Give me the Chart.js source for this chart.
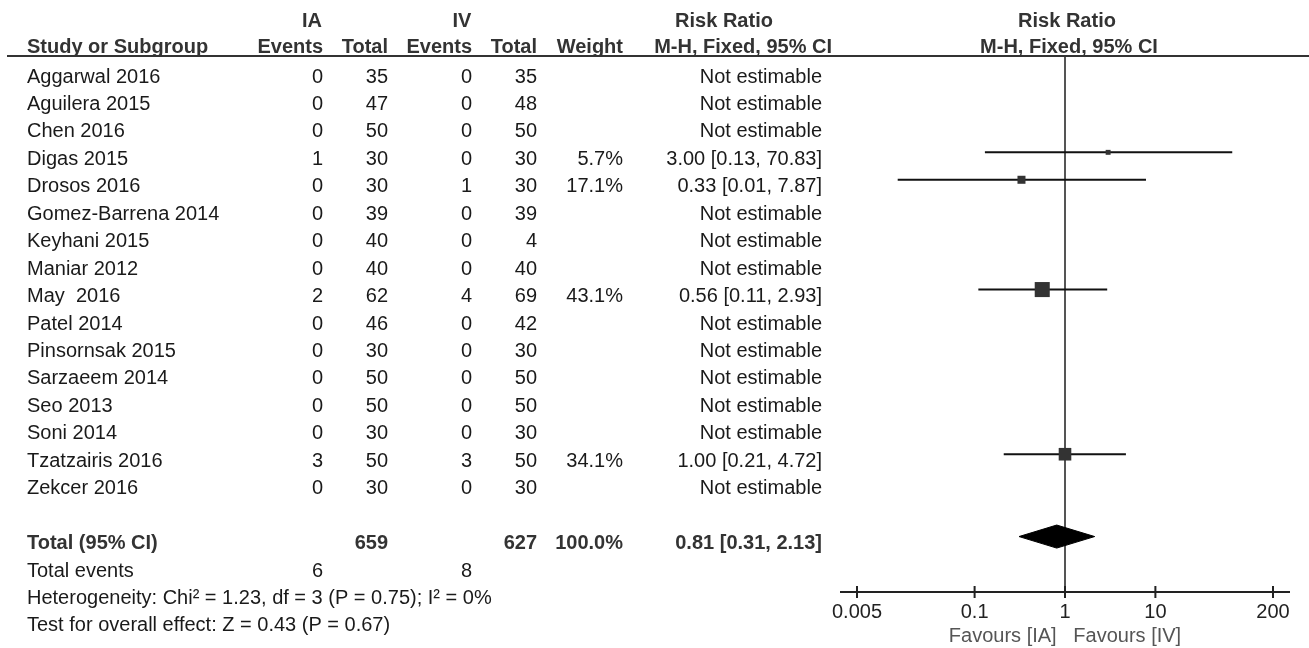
<!DOCTYPE html>
<html>
<head>
<meta charset="utf-8">
<script src="https://cdn.jsdelivr.net/npm/chart.js@4/dist/chart.umd.min.js"></script>
<style>
  html, body { margin: 0; padding: 0; background: #fff; }
  #wrap { width: 1309px; height: 648px; }
</style>
</head>
<body>
<div id="wrap"><canvas id="forest" width="1309" height="648"></canvas></div>
<script>
const studies = ['Aggarwal 2016', 'Aguilera 2015', 'Chen 2016', 'Digas 2015', 'Drosos 2016',
  'Gomez-Barrena 2014', 'Keyhani 2015', 'Maniar 2012', 'May  2016', 'Patel 2014',
  'Pinsornsak 2015', 'Sarzaeem 2014', 'Seo 2013', 'Soni 2014', 'Tzatzairis 2016', 'Zekcer 2016'];
const iaEvents = [0, 0, 0, 1, 0, 0, 0, 0, 2, 0, 0, 0, 0, 0, 3, 0];
const iaTotal  = [35, 47, 50, 30, 30, 39, 40, 40, 62, 46, 30, 50, 50, 30, 50, 30];
const ivEvents = [0, 0, 0, 0, 1, 0, 0, 0, 4, 0, 0, 0, 0, 0, 3, 0];
const ivTotal  = [35, 48, 50, 30, 30, 39, 4, 40, 69, 42, 30, 50, 50, 30, 50, 30];
const weights  = [null, null, null, 5.7, 17.1, null, null, null, 43.1, null, null, null, null, null, 34.1, null];
const riskRatio = [null, null, null, 3.00, 0.33, null, null, null, 0.56, null, null, null, null, null, 1.00, null];
const ciLow    = [null, null, null, 0.13, 0.0141, null, null, null, 0.11, null, null, null, null, null, 0.21, null];
const ciHigh   = [null, null, null, 70.83, 7.87, null, null, null, 2.93, null, null, null, null, null, 4.72, null];

const pooled = { rr: 0.81, low: 0.31, high: 2.13 };
const totals = { ia: 659, iv: 627, weight: '100.0%' };
const totalEvents = { ia: 6, iv: 8 };
const heterogeneity = 'Heterogeneity: Chi² = 1.23, df = 3 (P = 0.75); I² = 0%';
const overallEffect = 'Test for overall effect: Z = 0.43 (P = 0.67)';

const xTicks = [0.005, 0.1, 1, 10, 200];
const favoursLabel = 'Favours [IA]   Favours [IV]';

const FONT = '"Liberation Sans", Arial, Helvetica, sans-serif';
Chart.defaults.font.family = FONT;

const TOTAL_ROW = 17;
const Y_MIN = -0.51, Y_MAX = 19.02;

const estimable = studies.map((s, i) => i).filter(i => riskRatio[i] !== null);

// CI whiskers, one little line per study
const ciSets = estimable.map(i => ({
  data: [{ x: ciLow[i], y: i }, { x: ciHigh[i], y: i }],
  showLine: true,
  borderColor: '#111',
  borderWidth: 2,
  pointRadius: 0,
  clip: false,
  order: 3
}));

const squares = {
  data: estimable.map(i => ({ x: riskRatio[i], y: i })),
  pointStyle: 'rect',
  pointRadius: estimable.map(i => (3.4 + 0.27 * weights[i]) / Math.SQRT2),
  backgroundColor: '#333',
  borderWidth: 0,
  clip: false,
  order: 1
};

const diamond = {
  data: [
    { x: pooled.low, y: TOTAL_ROW },
    { x: pooled.rr, y: TOTAL_ROW - 0.42 },
    { x: pooled.high, y: TOTAL_ROW },
    { x: pooled.rr, y: TOTAL_ROW + 0.42 },
    { x: pooled.low, y: TOTAL_ROW }
  ],
  showLine: true,
  fill: 'shape',
  backgroundColor: '#000',
  borderColor: '#000',
  borderWidth: 1,
  pointRadius: 0,
  tension: 0,
  order: 2
};

const noEffect = {
  data: [{ x: 1, y: Y_MIN }, { x: 1, y: Y_MAX }],
  showLine: true,
  borderColor: '#555',
  borderWidth: 2,
  pointRadius: 0,
  order: 4
};

function put(ctx, s, x, y, align, bold) {
  ctx.font = (bold ? 'bold ' : '') + '20px ' + FONT;
  ctx.textAlign = align;
  ctx.fillText(s, x, y);
}

const tablePlugin = {
  id: 'forestTable',
  afterDraw(chart) {
    const ctx = chart.ctx;
    const ys = chart.scales.y;
    const xs = chart.scales.x;
    const area = chart.chartArea;
    ctx.save();

    // header rule
    ctx.strokeStyle = '#333';
    ctx.lineWidth = 2;
    ctx.beginPath();
    ctx.moveTo(7, area.top);
    ctx.lineTo(1309, area.top);
    ctx.stroke();

    // axis with ticks crossing it
    ctx.strokeStyle = '#222';
    ctx.beginPath();
    ctx.moveTo(area.left - 17, area.bottom);
    ctx.lineTo(area.right + 17, area.bottom);
    xTicks.forEach(v => {
      const px = xs.getPixelForValue(v);
      ctx.moveTo(px, area.bottom - 6);
      ctx.lineTo(px, area.bottom + 6);
    });
    ctx.stroke();

    ctx.textBaseline = 'middle';
    ctx.fillStyle = '#333';
    const h1 = 21, h2 = 47;
    put(ctx, 'IA', 312, h1, 'center', true);
    put(ctx, 'IV', 462, h1, 'center', true);
    put(ctx, 'Risk Ratio', 724, h1, 'center', true);
    put(ctx, 'Risk Ratio', 1067, h1, 'center', true);
    put(ctx, 'Study or Subgroup', 27, h2, 'left', true);
    put(ctx, 'Events', 323, h2, 'right', true);
    put(ctx, 'Total', 388, h2, 'right', true);
    put(ctx, 'Events', 472, h2, 'right', true);
    put(ctx, 'Total', 537, h2, 'right', true);
    put(ctx, 'Weight', 623, h2, 'right', true);
    put(ctx, 'M-H, Fixed, 95% CI', 832, h2, 'right', true);
    put(ctx, 'M-H, Fixed, 95% CI', 1069, h2, 'center', true);

    ctx.fillStyle = '#1a1a1a';
    const rowY = r => ys.getPixelForValue(r) + 7;
    studies.forEach((name, i) => {
      const y = rowY(i);
      put(ctx, name, 27, y, 'left');
      put(ctx, String(iaEvents[i]), 323, y, 'right');
      put(ctx, String(iaTotal[i]), 388, y, 'right');
      put(ctx, String(ivEvents[i]), 472, y, 'right');
      put(ctx, String(ivTotal[i]), 537, y, 'right');
      if (weights[i] !== null) put(ctx, weights[i].toFixed(1) + '%', 623, y, 'right');
      const ci = riskRatio[i] === null ? 'Not estimable'
        : `${riskRatio[i].toFixed(2)} [${ciLow[i].toFixed(2)}, ${ciHigh[i].toFixed(2)}]`;
      put(ctx, ci, 822, y, 'right');
    });

    ctx.fillStyle = '#333';
    let y = rowY(TOTAL_ROW);
    put(ctx, 'Total (95% CI)', 27, y, 'left', true);
    put(ctx, String(totals.ia), 388, y, 'right', true);
    put(ctx, String(totals.iv), 537, y, 'right', true);
    put(ctx, totals.weight, 623, y, 'right', true);
    put(ctx, `${pooled.rr.toFixed(2)} [${pooled.low.toFixed(2)}, ${pooled.high.toFixed(2)}]`, 822, y, 'right', true);

    ctx.fillStyle = '#1a1a1a';
    y = rowY(TOTAL_ROW + 1);
    put(ctx, 'Total events', 27, y, 'left');
    put(ctx, String(totalEvents.ia), 323, y, 'right');
    put(ctx, String(totalEvents.iv), 472, y, 'right');
    put(ctx, heterogeneity, 27, rowY(TOTAL_ROW + 2), 'left');
    put(ctx, overallEffect, 27, rowY(TOTAL_ROW + 3), 'left');

    ctx.restore();
  }
};

new Chart(document.getElementById('forest'), {
  type: 'scatter',
  data: { datasets: [squares, diamond, ...ciSets, noEffect] },
  options: {
    responsive: false,
    animation: false,
    events: [],
    layout: { padding: { left: 857, right: 36, top: 56, bottom: 0 } },
    plugins: { legend: { display: false }, tooltip: { enabled: false } },
    scales: {
      x: {
        type: 'logarithmic',
        min: 0.005,
        max: 200,
        position: 'bottom',
        afterBuildTicks: s => { s.ticks = xTicks.map(v => ({ value: v })); },
        afterFit: s => { s.height = 56; },
        grid: { display: false, drawTicks: false },
        border: { display: false },
        ticks: {
          autoSkip: false,
          maxRotation: 0,
          padding: 8,
          color: '#222',
          font: { size: 20 },
          callback: v => String(v)
        },
        title: {
          display: true,
          text: favoursLabel,
          color: '#555',
          font: { size: 20 },
          padding: { top: 0, bottom: 0 }
        }
      },
      y: { type: 'linear', min: Y_MIN, max: Y_MAX, reverse: true, display: false }
    }
  },
  plugins: [tablePlugin]
});
</script>
</body>
</html>
